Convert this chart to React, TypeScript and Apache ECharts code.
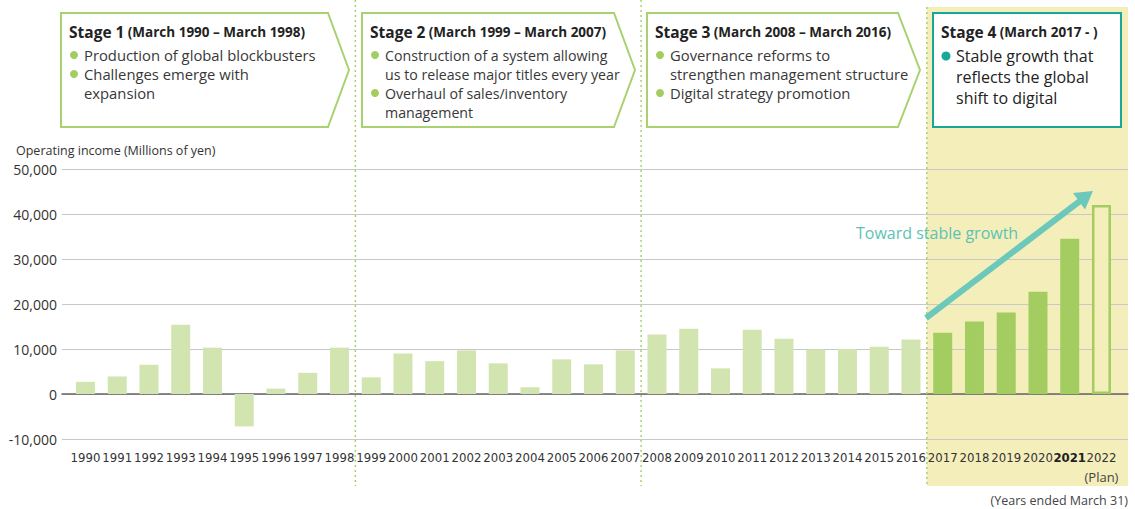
import React, { useEffect, useRef } from 'react';
import * as echarts from 'echarts';

const years = ['1990','1991','1992','1993','1994','1995','1996','1997','1998','1999','2000','2001','2002','2003','2004','2005','2006','2007','2008','2009','2010','2011','2012','2013','2014','2015','2016','2017','2018','2019','2020','2021','2022'];
const income = [2700, 3900, 6500, 15400, 10300, -7200, 1200, 4700, 10300, 3700, 9000, 7300, 9700, 6800, 1500, 7700, 6600, 9700, 13200, 14500, 5700, 14300, 12300, 9900, 10000, 10500, 12100, 13600, 16100, 18100, 22700, 34500, 42000];
const stage4FirstIndex = 27;
const planIndex = 32;
const boldYear = '2021';
const yMin = -10000;
const yMax = 50000;
const yInterval = 10000;

const stageTitles = ['Stage 1', 'Stage 2', 'Stage 3', 'Stage 4'];
const stagePeriods = ['(March 1990 – March 1998)', '(March 1999 – March 2007)', '(March 2008 – March 2016)', '(March 2017 - )'];
const stageBullets: string[][][] = [
  [['Production of global blockbusters'], ['Challenges emerge with', 'expansion']],
  [['Construction of a system allowing', 'us to release major titles every year'], ['Overhaul of sales/inventory', 'management']],
  [['Governance reforms to', 'strengthen management structure'], ['Digital strategy promotion']],
  [['Stable growth that', 'reflects the global', 'shift to digital']],
];

const GREEN_LIGHT = '#d2e5b1';
const GREEN_DARK = '#a3cd60';
const GREEN_LINE = '#a9d26f';
const TEAL = '#17a898';
const TEAL_ARROW = '#6cc8bb';
const YELLOW = '#f4eebb';
const FONT = "'Open Sans', Lato, sans-serif";
const NARROW = "'DejaVu Sans Condensed', 'Liberation Sans Narrow', sans-serif";

const GRID_TOP = 169;
const GRID_H = 270;
const BAR_LEFT = 69.6;
const STEP = 31.75;

function titleText(x: number, i: number) {
  return {
    type: 'text', z: 11, x, y: 32,
    style: {
      text: `{a|${stageTitles[i]}} {b|${stagePeriods[i]}}`,
      verticalAlign: 'middle', fill: '#222',
      rich: {
        a: { fontFamily: FONT, fontSize: 15.5, fontWeight: 'bold', fill: '#222' },
        b: { fontFamily: FONT, fontSize: 13.5, fontWeight: 'bold', fill: '#222' },
      },
    },
  };
}

function stageGraphics(): any[] {
  const els: any[] = [];
  const lefts = [61, 362, 647];
  const flats = [328, 614, 898];
  const tips = [349, 635, 920];
  const sizes = [14.8, 14.2, 14.8];
  for (let i = 0; i < 3; i++) {
    const l = lefts[i];
    els.push({
      type: 'polygon', z: 10,
      shape: { points: [[l, 13], [flats[i], 13], [tips[i], 70], [flats[i], 127], [l, 127]] },
      style: { fill: '#fff', stroke: GREEN_LINE, lineWidth: 2 },
    });
    els.push(titleText(l + 8, i));
    let y = 55;
    stageBullets[i].forEach((lines) => {
      els.push({ type: 'circle', z: 11, shape: { cx: l + 13, cy: y, r: 4 }, style: { fill: GREEN_DARK } });
      lines.forEach((ln) => {
        els.push({
          type: 'text', z: 11, x: l + 23, y,
          style: { text: ln, fontFamily: FONT, fontSize: sizes[i], fill: '#383838', verticalAlign: 'middle' },
        });
        y += 19;
      });
    });
  }
  els.push({
    type: 'rect', z: 10,
    shape: { x: 933, y: 13, width: 188, height: 114 },
    style: { fill: '#fff', stroke: TEAL, lineWidth: 2 },
  });
  els.push(titleText(941, 3));
  let y4 = 56;
  stageBullets[3].forEach((lines) => {
    els.push({ type: 'circle', z: 11, shape: { cx: 946, cy: y4, r: 4.5 }, style: { fill: TEAL } });
    lines.forEach((ln) => {
      els.push({
        type: 'text', z: 11, x: 956, y: y4,
        style: { text: ln, fontFamily: FONT, fontSize: 16, fontWeight: 500, fill: '#222', verticalAlign: 'middle' },
      });
      y4 += 21;
    });
  });
  return els;
}

export default function App() {
  const ref = useRef<HTMLDivElement>(null);
  useEffect(() => {
    if (!ref.current) return;
    const chart = echarts.init(ref.current, null, { renderer: 'svg' });
    const boundary = (k: number) => BAR_LEFT + k * STEP;
    const graphics: any[] = [
      {
        type: 'rect', z: -1,
        shape: { x: boundary(stage4FirstIndex), y: 7, width: 1128 - boundary(stage4FirstIndex), height: 479 },
        style: { fill: YELLOW },
      },
      ...[9, 18, 27].map((k) => ({
        type: 'line', z: 1,
        shape: { x1: boundary(k), y1: k === 27 ? 7 : 0, x2: boundary(k), y2: 486 },
        style: { stroke: GREEN_LINE, lineWidth: 1.5, lineDash: [2, 3] },
      })),
      ...stageGraphics(),
      {
        type: 'text', z: 5, x: 16, y: 150,
        style: { text: 'Operating income (Millions of yen)', fontFamily: FONT, fontSize: 12.5, fill: '#333', verticalAlign: 'middle' },
      },
      {
        type: 'text', z: 5, x: 1128, y: 500,
        style: { text: '(Years ended March 31)', fontFamily: FONT, fontSize: 12.5, fill: '#444', align: 'right', verticalAlign: 'middle' },
      },
      {
        type: 'line', z: 6,
        shape: { x1: 926, y1: 318, x2: 1082, y2: 199.5 },
        style: { stroke: TEAL_ARROW, lineWidth: 6 },
      },
      {
        type: 'polygon', z: 6,
        shape: { points: [[1093, 191], [1073, 193], [1085, 209.5]] },
        style: { fill: TEAL_ARROW },
      },
      {
        type: 'text', z: 6, x: 856, y: 233,
        style: { text: 'Toward stable growth', fontFamily: FONT, fontSize: 16, fontWeight: 500, fill: '#5cc3b4', verticalAlign: 'middle' },
      },
    ];

    const barData = income.map((v, i) => {
      if (i === planIndex) {
        return { value: v, itemStyle: { color: YELLOW, borderColor: GREEN_DARK, borderWidth: 2.5 } };
      }
      return { value: v, itemStyle: { color: i >= stage4FirstIndex ? GREEN_DARK : GREEN_LIGHT } };
    });

    chart.setOption({
      animation: false,
      textStyle: { fontFamily: FONT },
      grid: [
        { left: 62, right: 7, top: GRID_TOP, height: GRID_H },
        { left: BAR_LEFT, width: STEP * years.length, top: GRID_TOP, height: GRID_H },
      ],
      xAxis: [
        {
          type: 'value', gridIndex: 0, min: 0, max: 1,
          axisLine: { show: true, onZero: true, lineStyle: { color: '#666', width: 1.5 } },
          axisTick: { show: false }, axisLabel: { show: false }, splitLine: { show: false },
        },
        {
          type: 'category', gridIndex: 1, data: years,
          axisLine: { show: false }, axisTick: { show: false },
          axisLabel: {
            interval: 0, margin: 12, color: '#333', fontFamily: NARROW, fontSize: 13,
            formatter: (v: string, idx: number) => {
              if (v === boldYear) return `{b|${v}}`;
              if (idx === planIndex) return `{n|${v}}\n{p|(Plan)}`;
              return `{n|${v}}`;
            },
            rich: {
              n: { fontFamily: NARROW, fontSize: 13, color: '#333' },
              b: { fontFamily: NARROW, fontSize: 13, color: '#222', fontWeight: 'bold' },
              p: { fontFamily: FONT, fontSize: 13, color: '#444', lineHeight: 22, padding: [3, 0, 0, 0] },
            },
          },
        },
      ],
      yAxis: [
        {
          type: 'value', gridIndex: 0, min: yMin, max: yMax, interval: yInterval,
          axisLine: { show: false }, axisTick: { show: false },
          axisLabel: {
            margin: 5, color: '#333', fontSize: 14, fontFamily: FONT,
            formatter: (v: number) => v.toLocaleString('en-US'),
          },
          splitLine: { lineStyle: { color: '#c8c8c8', width: 1.2 } },
        },
        {
          type: 'value', gridIndex: 1, min: yMin, max: yMax, interval: yInterval, show: false,
          splitLine: { show: false },
        },
      ],
      series: [
        {
          type: 'bar', xAxisIndex: 1, yAxisIndex: 1, data: barData, barWidth: 19, z: 3,
        },
      ],
      graphic: graphics,
    });
    return () => chart.dispose();
  }, []);
  return <div ref={ref} style={{ position: 'fixed', left: 0, top: 0, width: 1135, height: 509, background: '#fff' }} />;
}
